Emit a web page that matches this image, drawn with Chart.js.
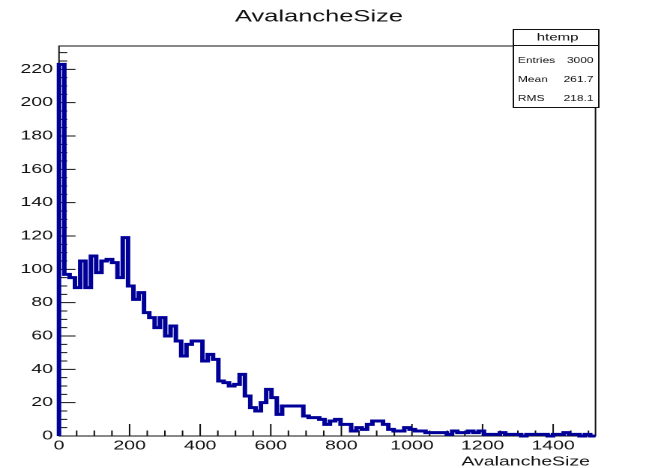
<!DOCTYPE html>
<html>
<head>
<meta charset="utf-8">
<script src="https://cdn.jsdelivr.net/npm/chart.js@4.4.1/dist/chart.umd.min.js"></script>
<style>
  html, body { margin: 0; padding: 0; background: #fff; overflow: hidden; }
  /* the ROOT-style canvas is laid out narrow and stretched to the page width */
  #wrap { position: absolute; left: 0; top: 0; width: 433px; height: 468px;
          transform: scaleX(1.49885); transform-origin: 0 0; }
</style>
</head>
<body>
<div id="wrap"><canvas id="c"></canvas></div>
<script>
// ---- histogram data ----
const histTitle = 'AvalancheSize';
const xAxisTitle = 'AvalancheSize';
const histName = 'htemp';
const xRange = [0, 1520];          // histogram axis limits
const yRange = [0, 234];
const binCounts = [
  223, 97, 95, 89, 105, 89, 108, 98, 105, 106,
  104, 95, 119, 90, 82, 86, 74, 71, 65, 71,
  60, 66, 57, 48, 55, 57, 57, 45, 49, 46,
  33, 32, 30, 31, 37, 24, 17, 15, 20, 28,
  23, 13, 18, 18, 18, 18, 12, 11, 11, 10,
  7, 9, 10, 7, 7, 3, 5, 4, 7, 9,
  9, 7, 4, 3, 3, 5, 4, 3, 3, 2,
  2, 2, 2, 1, 3, 2, 2, 3, 2, 3,
  1, 1, 1, 2, 1, 1, 1, 0, 1, 1,
  1, 1, 0, 1, 1, 2, 1, 1, 0, 1,
  0
];
const xTickValues = [0, 200, 400, 600, 800, 1000, 1200, 1400];
const yTickValues = [0, 20, 40, 60, 80, 100, 120, 140, 160, 180, 200, 220];
const statLabels = ['Entries', 'Mean', 'RMS'];
const statValues = ['3000', '261.7', '218.1'];

// ---- step outline through the bin edges ----
const nBins = binCounts.length;
const binWidth = (xRange[1] - xRange[0]) / nBins;
const outline = [{ x: xRange[0], y: 0 }];
binCounts.forEach((v, i) => outline.push({ x: xRange[0] + i * binWidth, y: v }));
outline.push({ x: xRange[1], y: 0 });

const FONT = '"Liberation Sans", Arial, Helvetica, sans-serif';
const INK = '#111';

// frame, inward ticks, axis title and stats box in the ROOT style
const rootDecor = {
  id: 'rootDecor',
  beforeDatasetsDraw(chart) {
    const { ctx, chartArea: a, scales: { x, y } } = chart;
    ctx.save();
    ctx.strokeStyle = INK;
    ctx.lineWidth = 1;
    ctx.strokeRect(a.left, a.top, a.right - a.left, a.bottom - a.top);
    ctx.beginPath();
    for (let v = xRange[0]; v <= xRange[1]; v += 50) {
      const px = x.getPixelForValue(v);
      const len = (v % 200 === 0) ? 12 : 5.5;
      ctx.moveTo(px, a.bottom); ctx.lineTo(px, a.bottom - len);
    }
    for (let v = yRange[0]; v <= yRange[1]; v += 5) {
      const py = y.getPixelForValue(v);
      const len = (v % 20 === 0) ? 11 : 5.5;
      ctx.moveTo(a.left, py); ctx.lineTo(a.left + len, py);
    }
    ctx.stroke();
    ctx.restore();
  },
  afterDraw(chart) {
    const { ctx } = chart;
    ctx.save();
    ctx.fillStyle = INK;
    // title
    ctx.font = '17px ' + FONT;
    ctx.textAlign = 'center';
    ctx.textBaseline = 'middle';
    ctx.fillText(histTitle, 212.8, 17);
    // x axis title
    ctx.font = '13px ' + FONT;
    ctx.textAlign = 'right';
    ctx.fillText(xAxisTitle, 393.6, 462);
    // stats box
    const bx0 = 342.5, bx1 = 399.5, by0 = 29.5, bSep = 45.5, by1 = 107.5;
    ctx.fillStyle = '#fff';
    ctx.fillRect(bx0, by0, bx1 - bx0, by1 - by0);
    ctx.strokeStyle = INK;
    ctx.lineWidth = 1;
    ctx.strokeRect(bx0, by0, bx1 - bx0, by1 - by0);
    ctx.beginPath(); ctx.moveTo(bx0, bSep); ctx.lineTo(bx1, bSep); ctx.stroke();
    ctx.fillStyle = INK;
    ctx.font = '10px ' + FONT;
    ctx.textAlign = 'center';
    ctx.fillText(histName, (bx0 + bx1) / 2 + 1, 37.5);
    ctx.font = '8px ' + FONT;
    const rowY = [61, 80, 99];
    statLabels.forEach((t, i) => {
      ctx.textAlign = 'left';
      ctx.fillText(t, bx0 + 3, rowY[i]);
      ctx.textAlign = 'right';
      ctx.fillText(statValues[i], bx1 - 3.5, rowY[i]);
    });
    ctx.restore();
  }
};

new Chart(document.getElementById('c'), {
  type: 'line',
  data: {
    datasets: [{
      data: outline,
      stepped: 'before',
      borderColor: '#000099',
      borderWidth: 3,
      borderJoinStyle: 'miter',
      pointRadius: 0,
      fill: false,
      clip: false
    }]
  },
  options: {
    responsive: true,
    maintainAspectRatio: false,
    animation: false,
    devicePixelRatio: 2,
    layout: { padding: { left: 0, right: 35.7, top: 46, bottom: 0 } },
    plugins: { legend: { display: false }, tooltip: { enabled: false }, title: { display: false } },
    scales: {
      x: {
        type: 'linear',
        min: xRange[0], max: xRange[1],
        grid: { display: false, drawTicks: false },
        border: { display: false },
        afterBuildTicks: s => { s.ticks = xTickValues.map(v => ({ value: v })); },
        afterFit: s => { s.height = 32; },
        ticks: { color: INK, font: { family: FONT, size: 13 }, padding: 2, maxRotation: 0, autoSkip: false,
                 callback: v => String(v) }
      },
      y: {
        type: 'linear',
        min: yRange[0], max: yRange[1],
        grid: { display: false, drawTicks: false },
        border: { display: false },
        afterBuildTicks: s => { s.ticks = yTickValues.map(v => ({ value: v })); },
        afterFit: s => { s.width = 39.36; },
        ticks: { color: INK, font: { family: FONT, size: 13 }, padding: 4, callback: v => String(v) }
      }
    }
  },
  plugins: [rootDecor]
});
</script>
</body>
</html>
